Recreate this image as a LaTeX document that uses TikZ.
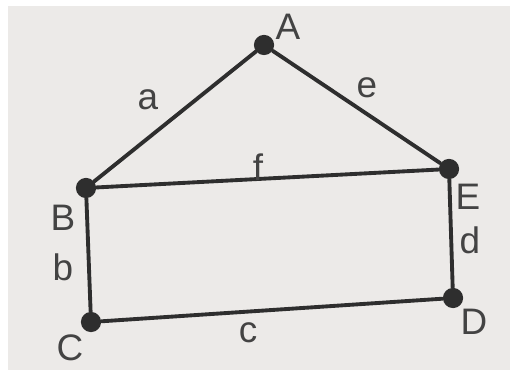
\documentclass[tikz,border=0pt]{standalone}
\usepackage{fontspec}
\setmainfont{Liberation Sans}
\usepackage{tikz}
\definecolor{paper}{HTML}{ECEAE8}
\definecolor{ink}{HTML}{2E2E2E}
\tikzset{
  every picture/.style={line join=round, line cap=round},
  vertex/.style={circle, fill=ink, inner sep=0pt, minimum size=11.5pt},
  edge/.style={draw=ink, line width=2.2pt},
  lab/.style={text=ink!90, font=\fontsize{21}{21}\selectfont, inner sep=0pt},
}

\begin{document}
\begin{tikzpicture}[x=0.02cm,y=-0.02cm]
\useasboundingbox[fill=white] (0,0) rectangle (510,381);
\fill[paper] (8,6) rectangle (510,370);
% vertices
\foreach \n/\x/\y in {A/264/45, B/86/188, E/449/169, C/91/322, D/453/298}{
  \node[vertex] (\n) at (\x,\y) {};
}
% edges
\draw[edge] (A) -- (B);
\draw[edge] (A) -- (E);
\draw[edge] (B) -- (E);
\draw[edge] (B) -- (C);
\draw[edge] (C) -- (D);
\draw[edge] (E) -- (D);
% vertex names
\foreach \n/\x/\y in {A/288/27, B/63/218, E/468/197, C/70/348, D/474/322}{
  \node[lab] (l\n) at (\x,\y) {\n};
}
% edge names
\foreach \n/\x/\y in {a/148/100, e/367/88, f/258/167, b/63/267, d/470/240, c/248/333}{
  \node[lab] (l\n) at (\x,\y) {\n};
}
\end{tikzpicture}
\end{document}
